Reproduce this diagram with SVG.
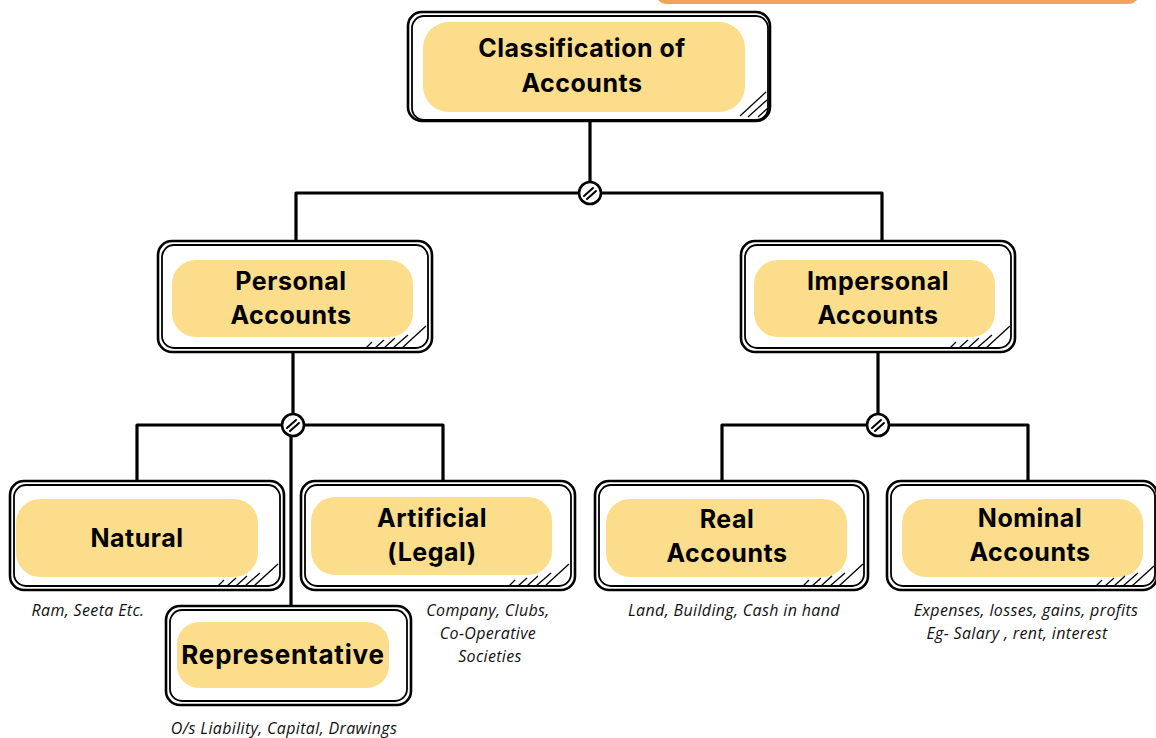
<svg xmlns="http://www.w3.org/2000/svg" width="1156" height="738" viewBox="0 0 1156 738">
<defs>
<style>
.o1{fill:#fff;stroke:#000;stroke-width:2.6}
.o2{fill:none;stroke:#000;stroke-width:1.8}
.pill{fill:#fbdd8c}
.h{stroke:#000;stroke-width:1.3}
.t{font-family:Inter,"Liberation Sans",sans-serif;font-weight:700;font-size:25px;letter-spacing:0.5px;fill:#000;text-anchor:middle}
.c{font-family:"Open Sans","Liberation Sans",sans-serif;font-style:italic;font-size:16px;letter-spacing:0.35px;fill:#111;text-anchor:middle}
.ln{fill:none;stroke:#000;stroke-width:3.2;stroke-linecap:round;stroke-linejoin:round}
.j{fill:#fff;stroke:#000;stroke-width:2.6}
.js{stroke:#000;stroke-width:2;stroke-linecap:round}
</style>
</defs>
<rect width="1156" height="738" fill="#fff"/>
<rect x="655" y="-20" width="485" height="24" rx="12" fill="#f4a25c"/>

<g id="connectors">
<path class="ln" d="M590 122 V193 M296 243 V193 H882 V243"/>
<path class="ln" d="M293 352 V425 M137 482 V425 H443 V482 M291 425 V606"/>
<path class="ln" d="M878 352 V425 M722 482 V425 H1028 V482"/>
<g><circle class="j" cx="590" cy="193" r="11"/><path class="js" d="M584 196 L593 188 M587 199 L596 191"/></g>
<g><circle class="j" cx="293" cy="425" r="11"/><path class="js" d="M287 428 L296 420 M290 431 L299 423"/></g>
<g><circle class="j" cx="878" cy="425" r="11"/><path class="js" d="M872 428 L881 420 M875 431 L884 423"/></g>
</g>

<g id="n-classification">
<rect class="o1" x="408" y="12" width="362" height="109" rx="14"/>
<rect class="o2" x="412" y="16" width="356" height="104" rx="12"/>
<rect class="pill" x="423" y="22" width="322" height="90" rx="26"/>
<path class="h" d="M740 116 L766 92 M748 117 L767 100 M758 117 L768 108"/>
<text class="t" x="582" y="57">Classification of</text>
<text class="t" x="582" y="92">Accounts</text>
</g>

<g id="n-personal">
<rect class="o1" x="158" y="241" width="274" height="111" rx="14"/>
<rect class="o2" x="162" y="245" width="266" height="103" rx="12"/>
<rect class="pill" x="172" y="260" width="241" height="77" rx="24"/>
<path class="h" d="M366 348 L372 342 M375 348 L384 340 M384 348 L395 338 M393 348 L408 335 M402 348 L426 326"/>
<text class="t" x="291" y="290">Personal</text>
<text class="t" x="291" y="324">Accounts</text>
</g>

<g id="n-impersonal">
<rect class="o1" x="741" y="241" width="274" height="111" rx="14"/>
<rect class="o2" x="745" y="245" width="266" height="103" rx="12"/>
<rect class="pill" x="754" y="260" width="241" height="77" rx="24"/>
<path class="h" d="M950 348 L956 342 M959 348 L968 340 M968 348 L979 338 M977 348 L992 335 M986 348 L1010 326"/>
<text class="t" x="878" y="290">Impersonal</text>
<text class="t" x="878" y="324">Accounts</text>
</g>

<g id="n-natural">
<rect class="o1" x="10" y="481" width="274" height="109" rx="14"/>
<rect class="o2" x="14" y="485" width="266" height="101" rx="12"/>
<rect class="pill" x="16" y="499" width="242" height="78" rx="24"/>
<path class="h" d="M218 586 L224 580 M227 586 L236 578 M236 586 L247 576 M245 586 L260 573 M254 586 L278 564"/>
<text class="t" x="137" y="547">Natural</text>
</g>

<g id="n-artificial">
<rect class="o1" x="301" y="481" width="274" height="109" rx="14"/>
<rect class="o2" x="305" y="485" width="266" height="101" rx="12"/>
<rect class="pill" x="311" y="497" width="241" height="78" rx="24"/>
<path class="h" d="M509 586 L515 580 M518 586 L527 578 M527 586 L538 576 M536 586 L551 573 M545 586 L569 564"/>
<text class="t" x="432" y="527">Artificial</text>
<text class="t" x="432" y="561">(Legal)</text>
</g>

<g id="n-real">
<rect class="o1" x="595" y="481" width="273" height="109" rx="14"/>
<rect class="o2" x="599" y="485" width="265" height="101" rx="12"/>
<rect class="pill" x="606" y="499" width="241" height="78" rx="24"/>
<path class="h" d="M803 586 L809 580 M812 586 L821 578 M821 586 L832 576 M830 586 L845 573 M839 586 L863 564"/>
<text class="t" x="727" y="528">Real</text>
<text class="t" x="727" y="562">Accounts</text>
</g>

<g id="n-nominal">
<rect class="o1" x="887" y="481" width="270" height="109" rx="14"/>
<rect class="o2" x="891" y="485" width="264" height="101" rx="12"/>
<rect class="pill" x="902" y="499" width="241" height="78" rx="24"/>
<path class="h" d="M1096 586 L1102 580 M1105 586 L1114 578 M1114 586 L1125 576 M1123 586 L1138 573 M1132 586 L1154 566"/>
<text class="t" x="1030" y="527">Nominal</text>
<text class="t" x="1030" y="561">Accounts</text>
</g>

<g id="n-representative">
<rect class="o1" x="166" y="606" width="245" height="99" rx="14"/>
<rect class="o2" x="170" y="610" width="237" height="91" rx="12"/>
<rect class="pill" x="177" y="622" width="212" height="66" rx="22"/>
<text class="t" x="283" y="664" style="font-size:26px;letter-spacing:0.8px">Representative</text>
</g>

<g id="captions">
<text class="c" x="88" y="616">Ram, Seeta Etc.</text>
<text class="c" x="488" y="616">Company, Clubs,</text>
<text class="c" x="488" y="639">Co-Operative</text>
<text class="c" x="490" y="662">Societies</text>
<text class="c" x="734" y="616">Land, Building, Cash in hand</text>
<text class="c" x="1026" y="616">Expenses, losses, gains, profits</text>
<text class="c" x="1017" y="639">Eg- Salary , rent, interest</text>
<text class="c" x="284" y="734">O/s Liability, Capital, Drawings</text>
</g>
</svg>
